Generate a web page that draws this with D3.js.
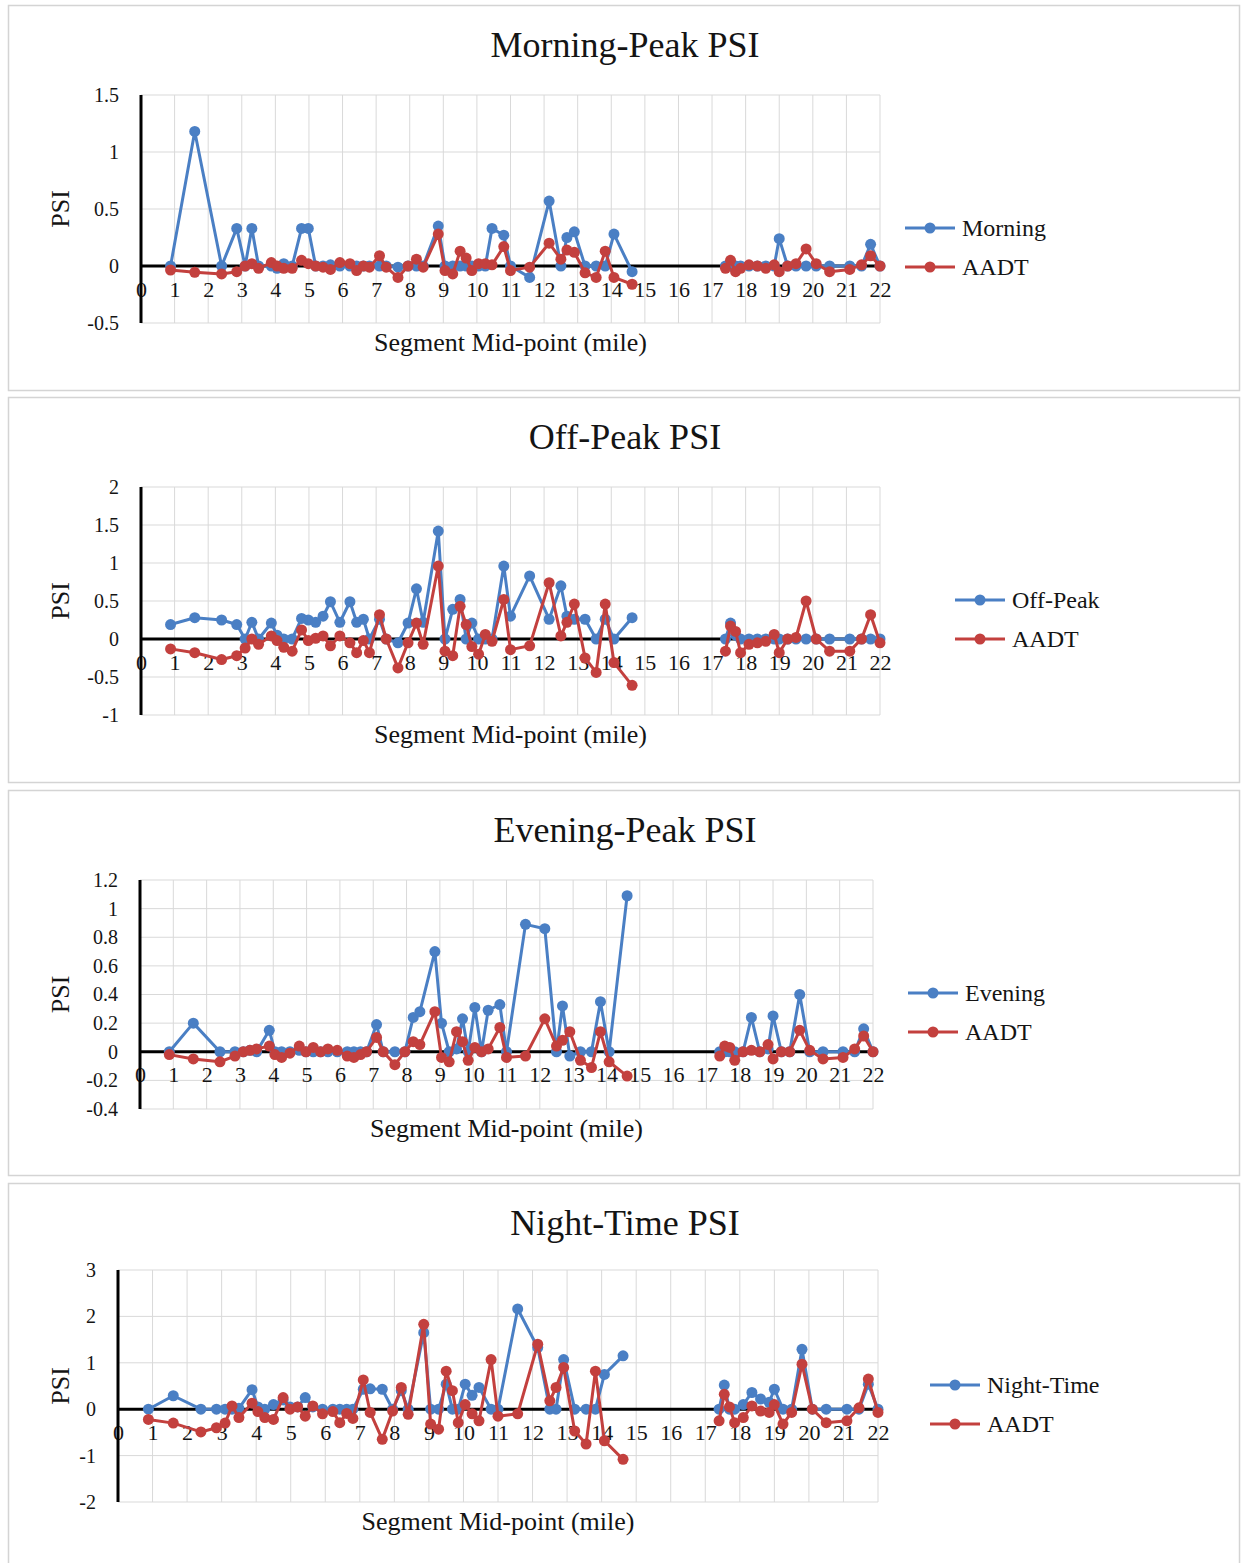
<!DOCTYPE html>
<html>
<head>
<meta charset="utf-8">
<script src="https://cdnjs.cloudflare.com/ajax/libs/d3/7.8.5/d3.min.js"></script>
<style>
  body { margin: 0; background: #fff; }
  svg { display: block; font-family: "Liberation Serif", "Times New Roman", serif; }
</style>
</head>
<body>
<svg id="chart" width="1242" height="1563"></svg>
<script>
// segment mid-points (mile), shared by all four charts
const mileposts = [0.88, 1.60, 2.40, 2.85, 3.10, 3.30, 3.50, 3.88, 4.05, 4.25, 4.50, 4.78, 4.98, 5.20, 5.42, 5.64,
  5.92, 6.22, 6.42, 6.62, 6.80, 7.10, 7.30, 7.65, 7.95, 8.20, 8.40, 8.85, 9.05, 9.28, 9.50, 9.68, 9.85, 10.05,
  10.25, 10.45, 10.80, 11.00, 11.57, 12.15, 12.50, 12.68, 12.90, 13.22, 13.55, 13.82, 14.08, 14.62,
  17.40, 17.55, 17.70, 17.85, 18.10, 18.35, 18.60, 18.85, 19.00, 19.25, 19.50, 19.80, 20.10, 20.50, 21.10, 21.45, 21.72, 22.00];

const morningPSI = [0, 1.18, 0, 0.33, 0, 0.33, 0, 0, -0.02, 0.02, 0, 0.33, 0.33, 0, 0, 0.01,
  0, 0, 0, 0, 0, 0, 0, -0.01, 0, 0, 0, 0.35, 0, 0, 0, 0, 0, 0,
  0, 0.33, 0.27, 0, -0.1, 0.57, 0, 0.25, 0.3, 0, 0, 0, 0.28, -0.05,
  0, 0, 0, 0, 0, 0, 0, 0, 0.24, 0, 0, 0, 0, 0, 0, 0, 0.19, 0];
const morningAADT = [-0.035, -0.055, -0.07, -0.05, 0, 0.02, -0.02, 0.03, 0, -0.02, -0.02, 0.05, 0.02, 0, -0.01, -0.03,
  0.03, 0.02, -0.04, 0, -0.01, 0.09, -0.01, -0.1, 0, 0.06, -0.01, 0.28, -0.04, -0.07, 0.13, 0.07, -0.04, 0.02,
  0.02, 0.01, 0.17, -0.04, -0.01, 0.2, 0.06, 0.14, 0.12, -0.06, -0.1, 0.13, -0.1, -0.16,
  -0.02, 0.05, -0.05, -0.02, 0.01, 0, -0.02, 0.01, -0.05, 0, 0.02, 0.15, 0.02, -0.05, -0.03, 0.01, 0.09, 0];

const offPeakPSI = [0.19, 0.28, 0.25, 0.19, 0, 0.22, 0, 0.21, 0.05, 0, 0, 0.27, 0.25, 0.22, 0.3, 0.49,
  0.22, 0.49, 0.22, 0.26, 0, 0.26, 0, -0.05, 0.21, 0.66, 0.22, 1.42, 0, 0.39, 0.52, 0, 0.21, 0,
  0, 0, 0.96, 0.3, 0.83, 0.26, 0.7, 0.3, 0.26, 0.26, 0, 0.26, 0, 0.28,
  0, 0.21, 0.05, 0, 0, 0, 0, 0, 0, 0, 0, 0, 0, 0, 0, 0, 0, 0];
const offPeakAADT = [-0.13, -0.18, -0.27, -0.22, -0.12, 0, -0.07, 0.04, -0.02, -0.11, -0.16, 0.12, -0.02, 0.01, 0.04, -0.09,
  0.04, -0.05, -0.18, -0.02, -0.18, 0.32, 0, -0.38, -0.05, 0.21, -0.07, 0.96, -0.16, -0.22, 0.43, 0.19, -0.1, -0.2,
  0.06, -0.03, 0.52, -0.14, -0.09, 0.74, 0.04, 0.22, 0.46, -0.25, -0.44, 0.46, -0.31, -0.61,
  -0.16, 0.17, 0.1, -0.18, -0.07, -0.05, -0.03, 0.06, -0.18, 0, 0.02, 0.5, 0, -0.16, -0.16, 0, 0.32, -0.05];

const eveningPSI = [0, 0.2, 0, 0, 0, 0.01, 0, 0.15, 0, 0, 0, 0.01, 0, 0, 0, 0,
  0, 0, 0, 0, 0, 0.19, 0, 0, 0, 0.24, 0.28, 0.7, 0.2, 0, 0.02, 0.23, 0, 0.31,
  0, 0.29, 0.33, 0, 0.89, 0.86, 0, 0.32, -0.03, 0, 0, 0.35, 0, 1.09,
  0, 0, 0, 0, 0, 0.24, 0, 0.02, 0.25, 0, 0, 0.4, 0, 0, 0, 0, 0.16, 0];
const eveningAADT = [-0.02, -0.05, -0.07, -0.03, 0, 0.01, 0.02, 0.04, -0.02, -0.04, -0.01, 0.04, 0, 0.03, 0, 0.02,
  0.01, -0.03, -0.04, -0.02, 0, 0.1, 0, -0.09, 0, 0.07, 0.05, 0.28, -0.04, -0.07, 0.14, 0.07, -0.06, 0.03,
  0, 0.02, 0.17, -0.04, -0.03, 0.23, 0.04, 0.08, 0.14, -0.06, -0.11, 0.14, -0.07, -0.17,
  -0.03, 0.04, 0.03, -0.06, 0, 0.01, 0, 0.05, -0.05, 0, 0, 0.15, 0.01, -0.05, -0.04, 0.02, 0.11, 0];

const nightPSI = [0, 0.29, 0, 0, 0, 0, 0.02, 0.42, 0.05, 0, 0.1, 0.2, 0.05, 0.05, 0.25, 0.05,
  0, 0, 0, 0, 0, 0.43, 0.44, 0.43, 0, 0.4, 0, 1.65, 0, 0, 0.54, 0, 0, 0.54,
  0.3, 0.47, 0, 0, 2.16, 1.33, 0, 0, 1.07, 0, 0, 0, 0.75, 1.15,
  0, 0.52, 0, 0, 0.1, 0.36, 0.22, 0.15, 0.43, 0, 0, 1.29, 0, 0, 0, 0, 0.54, 0];
const nightAADT = [-0.22, -0.3, -0.49, -0.4, -0.3, 0.07, -0.18, 0.13, -0.05, -0.18, -0.22, 0.25, 0, 0.05, -0.15, 0.07,
  -0.1, -0.05, -0.29, -0.09, -0.2, 0.63, -0.07, -0.65, -0.04, 0.47, -0.11, 1.83, -0.32, -0.43, 0.82, 0.4, -0.29, 0.1,
  -0.1, -0.25, 1.07, -0.15, -0.1, 1.4, 0.18, 0.47, 0.9, -0.47, -0.75, 0.82, -0.68, -1.08,
  -0.25, 0.32, 0.05, -0.29, -0.18, 0.07, -0.04, -0.07, 0.1, -0.32, -0.07, 0.97, 0, -0.29, -0.25, 0.03, 0.65, -0.07];

const xTicks = d3.range(0, 23);
const morningTicks = [-0.5, 0, 0.5, 1, 1.5];
const offPeakTicks = [-1, -0.5, 0, 0.5, 1, 1.5, 2];
const eveningTicks = [-0.4, -0.2, 0, 0.2, 0.4, 0.6, 0.8, 1, 1.2];
const nightTicks = [-2, -1, 0, 1, 2, 3];

const titles = ["Morning-Peak PSI", "Off-Peak PSI", "Evening-Peak PSI", "Night-Time PSI"];
const seriesNames = ["Morning", "Off-Peak", "Evening", "Night-Time"];

const blue = "#4a7fc4";
const red = "#c3403e";
const ink = "#141414";

const panels = [
  { psi: morningPSI, aadt: morningAADT, ticks: morningTicks,
    box: [5, 390], left: 141, right: 880, top: 95, bottom: 323, legendX: 905, legendY: 228 },
  { psi: offPeakPSI, aadt: offPeakAADT, ticks: offPeakTicks,
    box: [397, 782], left: 141, right: 880, top: 487, bottom: 715, legendX: 955, legendY: 600 },
  { psi: eveningPSI, aadt: eveningAADT, ticks: eveningTicks,
    box: [790, 1175], left: 140, right: 873, top: 880, bottom: 1109, legendX: 908, legendY: 993 },
  { psi: nightPSI, aadt: nightAADT, ticks: nightTicks,
    box: [1183, 1570], left: 118, right: 878, top: 1270, bottom: 1502, legendX: 930, legendY: 1385 }
];

const svg = d3.select("#chart");

// split into runs so the missing stretch (no segments) leaves a gap in the line
function runs(values) {
  const pts = mileposts.map((m, i) => ({ x: m, y: values[i] }));
  const out = [[pts[0]]];
  for (let i = 1; i < pts.length; i++) {
    if (pts[i].x - pts[i - 1].x > 1.5) out.push([]);
    out[out.length - 1].push(pts[i]);
  }
  return out;
}

panels.forEach((p, k) => {
  const g = svg.append("g");

  g.append("rect")
    .attr("x", 8.5).attr("y", p.box[0] + 0.5)
    .attr("width", 1231).attr("height", p.box[1] - p.box[0])
    .attr("fill", "#fff").attr("stroke", "#d4d4d4").attr("stroke-width", 1.5);

  const yMin = d3.min(p.ticks), yMax = d3.max(p.ticks);
  const x = d3.scaleLinear().domain([0, 22]).range([p.left, p.right]);
  const y = d3.scaleLinear().domain([yMin, yMax]).range([p.bottom, p.top]);

  // gridlines
  g.append("g").selectAll("line").data(xTicks.slice(1)).join("line")
    .attr("x1", d => x(d)).attr("x2", d => x(d))
    .attr("y1", p.top).attr("y2", p.bottom)
    .attr("stroke", "#d9d9d9").attr("stroke-width", 1);
  g.append("g").selectAll("line").data(p.ticks).join("line")
    .attr("x1", p.left).attr("x2", p.right)
    .attr("y1", d => y(d)).attr("y2", d => y(d))
    .attr("stroke", "#d9d9d9").attr("stroke-width", 1);

  // y axis
  const yAxis = g.append("g")
    .attr("transform", `translate(${p.left},0)`)
    .call(d3.axisLeft(y).tickValues(p.ticks).tickSize(0).tickPadding(22).tickFormat(d => String(d)));
  yAxis.select(".domain").remove();
  yAxis.selectAll("text")
    .attr("font-family", "Liberation Serif").attr("font-size", 20).attr("fill", ink);

  // x axis labels next to the zero line
  const xAxis = g.append("g")
    .attr("transform", `translate(0,${y(0)})`)
    .call(d3.axisBottom(x).tickValues(xTicks).tickSize(0).tickPadding(15).tickFormat(d => String(d)));
  xAxis.select(".domain").remove();
  xAxis.selectAll("text")
    .attr("font-family", "Liberation Serif").attr("font-size", 22).attr("fill", ink);

  g.append("line")
    .attr("x1", p.left).attr("x2", p.right)
    .attr("y1", y(0)).attr("y2", y(0))
    .attr("stroke", "#000").attr("stroke-width", 3);
  g.append("line")
    .attr("x1", p.left).attr("x2", p.left)
    .attr("y1", p.top).attr("y2", p.bottom)
    .attr("stroke", "#000").attr("stroke-width", 3);

  const line = d3.line().x(d => x(d.x)).y(d => y(d.y));

  [[p.psi, blue], [p.aadt, red]].forEach(([vals, col]) => {
    const s = g.append("g");
    s.selectAll("path").data(runs(vals)).join("path")
      .attr("d", line).attr("fill", "none")
      .attr("stroke", col).attr("stroke-width", 3).attr("stroke-linejoin", "round");
    s.selectAll("circle").data(mileposts.map((m, i) => [m, vals[i]])).join("circle")
      .attr("cx", d => x(d[0])).attr("cy", d => y(d[1])).attr("r", 5.5)
      .attr("fill", col);
  });

  // titles
  g.append("text")
    .attr("x", 625).attr("y", p.box[0] + 52)
    .attr("text-anchor", "middle").attr("font-size", 36).attr("fill", ink)
    .text(titles[k]);
  g.append("text")
    .attr("x", (p.left + p.right) / 2).attr("y", p.bottom + 28)
    .attr("text-anchor", "middle").attr("font-size", 26).attr("fill", ink)
    .text("Segment Mid-point (mile)");
  g.append("text")
    .attr("transform", `translate(69,${(p.top + p.bottom) / 2}) rotate(-90)`)
    .attr("text-anchor", "middle").attr("font-size", 26).attr("fill", ink)
    .text("PSI");

  // legend
  const leg = g.append("g").attr("transform", `translate(${p.legendX},${p.legendY})`);
  [[seriesNames[k], blue], ["AADT", red]].forEach(([name, col], j) => {
    const row = leg.append("g").attr("transform", `translate(0,${j * 39})`);
    row.append("line").attr("x1", 0).attr("x2", 50).attr("stroke", col).attr("stroke-width", 3);
    row.append("circle").attr("cx", 25).attr("r", 5.5).attr("fill", col);
    row.append("text").attr("x", 57).attr("y", 8).attr("font-size", 24).attr("fill", ink).text(name);
  });
});
</script>
</body>
</html>
